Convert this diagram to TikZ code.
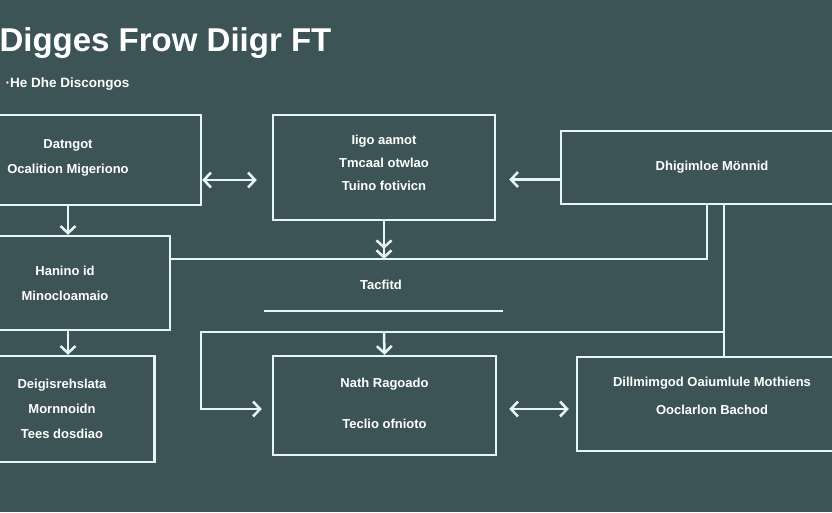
\documentclass[tikz,border=0pt]{standalone}
\usepackage{fontspec}
\setmainfont{Liberation Sans}
\usetikzlibrary{arrows.meta, calc}
\definecolor{slate}{RGB}{61,84,87}
\definecolor{chalk}{RGB}{230,245,245}

\begin{document}
\begin{tikzpicture}[x=1pt, y=-1pt,
    box/.style={draw=chalk, line width=2.5pt, inner sep=0pt, align=center, text=white,
        font=\bfseries\fontsize{13}{25}\selectfont},
    wire/.style={draw=chalk, line width=2.5pt},
    >={Straight Barb[length=7pt 0, width=15pt 0]}]

    \fill[slate] (0,0) rectangle (832,512);
    \useasboundingbox (0,0) rectangle (832,512);

    \node[anchor=base west, text=white, font=\bfseries\fontsize{33}{40}\selectfont] (title) at (-4,51) {Digges Frow Diigr FT};
    \node[anchor=base west, text=white, font=\bfseries\fontsize{13.5}{16}\selectfont] (sub) at (2,87) {·He Dhe Discongos};

    \node[box, minimum width=266pt, minimum height=90pt, text depth=7pt] (A) at (68,160) {Datngot\\Ocalition Migeriono};
    \node[box, minimum width=222pt, minimum height=105pt, text depth=9pt, font=\bfseries\fontsize{13}{23}\selectfont] (B) at (384,167.5) {Iigo aamot\\Tmcaal otwlao\\Tuino fotivicn};
    \node[box, minimum width=302pt, minimum height=73pt] (C) at (712,167.5) {Dhigimloe Mönnid};
    \node[box, minimum width=210pt, minimum height=94pt] (D) at (65,283) {Hanino id\\Minocloamaio};
    \node[box, minimum width=185pt, minimum height=106pt] (G) at (62,409) {Deigisrehslata\\Mornnoidn\\Tees dosdiao};
    \node[box, minimum width=223pt, minimum height=99pt, text depth=4pt] (E) at (384.5,405.5) {Nath Ragoado\\[16pt]Teclio ofnioto};
    \node[box, minimum width=270pt, minimum height=94pt, text depth=16pt] (F) at (712,404) {Dillmimgod Oaiumlule Mothiens\\[3pt]Ooclarlon Bachod};

    \node[text=white, font=\bfseries\fontsize{13}{15}\selectfont] (tag) at (381,285) {Tacfitd};
    \draw[wire] (264,311) -- (503,311);

    \coordinate (bus) at (384,259);
    \coordinate (bus2) at (384,332);
    \coordinate (bend) at (201,332);

    \draw[wire, <->, shorten >=15pt] ([yshift=-20pt]A.east) -- ([yshift=-12.5pt]B.west);
    \draw[wire, ->, shorten >=13pt] ([yshift=-12pt]C.west) -- ([yshift=-12pt]B.east);
    \draw[wire, ->>] (B.south) -- (bus);
    \draw[wire] ([xshift=-5pt]C.south) |- (D.east |- bus);
    \draw[wire] ([xshift=12pt]C.south) -- ([xshift=12pt]F.north);
    \draw[wire, ->, shorten >=10pt] ([xshift=12pt]C.south |- bus2) -- (bend) |- ([yshift=-3.5pt]E.west);
    \draw[wire, ->] (bus2) -- (E.north);
    \draw[wire, <->, shorten <=12pt, shorten >=7pt] ([yshift=-3.5pt]E.east) -- ([yshift=-3.5pt]E.east -| F.west);
    \draw[wire, ->] (A.south) -- (A.south |- D.north);
    \draw[wire, ->] (A.south |- D.south) -- (A.south |- G.north);
\end{tikzpicture}
\end{document}
